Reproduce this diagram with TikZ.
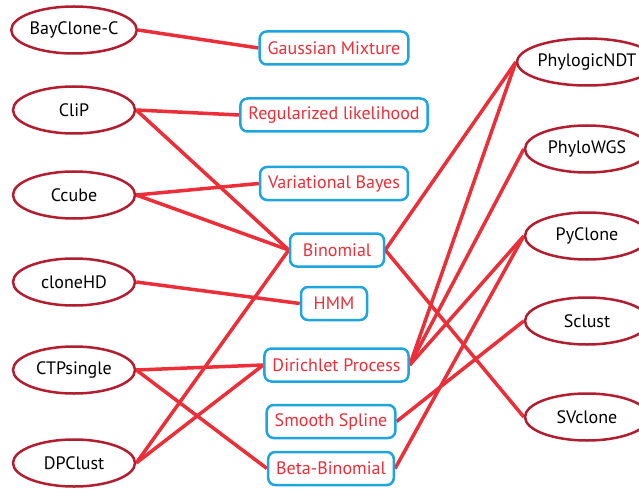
\documentclass[tikz,border=0pt]{standalone}
\usepackage{fontspec}
\setmainfont{PT Sans}
\usepackage{tikz}
\usetikzlibrary{shapes.geometric,backgrounds}
\definecolor{toolred}{RGB}{178,30,48}
\definecolor{linkred}{RGB}{236,46,56}
\definecolor{modelblue}{RGB}{30,164,222}

\begin{document}
\begin{tikzpicture}[x=1pt,y=-1pt,
    tool/.style={ellipse, draw=toolred, line width=2.5pt, fill=white, minimum width=122pt, minimum height=47pt, inner sep=0pt, font=\fontsize{18}{21}\selectfont},
    model/.style={draw=modelblue, line width=2.5pt, rounded corners=7pt, fill=white, text=linkred, minimum height=33pt, inner xsep=8pt, font=\fontsize{18}{21}\selectfont},
    link/.style={draw=linkred, line width=3.5pt}]
        \clip (0,0) rectangle (639,489);

        % tools on the left
        \node[tool] (bayclone) at (74,30) {BayClone-C};
        \node[tool] (clip) at (74,110) {CliP};
        \node[tool] (ccube) at (74,195) {Ccube};
        \node[tool] (clonehd) at (74,282) {cloneHD};
        \node[tool] (ctpsingle) at (74,370) {CTPsingle};
        \node[tool] (dpclust) at (74,463) {DPClust};

        % tools on the right
        \node[tool, minimum width=124pt] (phylogic) at (587,62) {PhylogicNDT};
        \node[tool, minimum width=124pt] (phylowgs) at (587,149) {PhyloWGS};
        \node[tool, minimum width=124pt] (pyclone) at (587,236) {PyClone};
        \node[tool, minimum width=124pt] (sclust) at (587,321) {Sclust};
        \node[tool, minimum width=124pt] (svclone) at (587,417) {SVclone};

        % models in the middle
        \node[model] (gauss) at (334,48) {Gaussian Mixture};
        \node[model] (reglik) at (334,115) {Regularized likelihood};
        \node[model] (varbayes) at (334,183.5) {Variational Bayes};
        \node[model, minimum width=94pt] (binom) at (337,250) {Binomial};
        \node[model, minimum width=66pt] (hmm) at (334,303.5) {HMM};
        \node[model] (dirichlet) at (336.5,365) {Dirichlet Process};
        \node[model] (spline) at (331,421.5) {Smooth Spline};
        \node[model] (betabin) at (331,468.5) {Beta-Binomial};

        \begin{pgfonlayer}{background}
        \draw[link] (bayclone.east) -- (gauss.west);
        \draw[link] (clip.east) -- (reglik.west);
        \draw[link] (clip.east) -- (binom.west);
        \draw[link] (ccube.east) -- (varbayes.west);
        \draw[link] (ccube.east) -- (binom.west);
        \draw[link] (clonehd.east) -- (hmm.west);
        \draw[link] (ctpsingle.east) -- (dirichlet.west);
        \draw[link] (ctpsingle.east) -- (betabin.west);
        \draw[link] (dpclust.east) -- (binom.west);
        \draw[link] (dpclust.east) -- (dirichlet.west);

        \draw[link] (binom.east) -- (phylogic.west);
        \draw[link] (binom.east) -- (svclone.west);
        \draw[link] (dirichlet.east) -- (phylogic.west);
        \draw[link] (dirichlet.east) -- (phylowgs.west);
        \draw[link] (dirichlet.east) -- (pyclone.west);
        \draw[link] (spline.east) -- (sclust.west);
        \draw[link] (betabin.east) -- (pyclone.west);
        \end{pgfonlayer}
    \end{tikzpicture}
\end{document}
